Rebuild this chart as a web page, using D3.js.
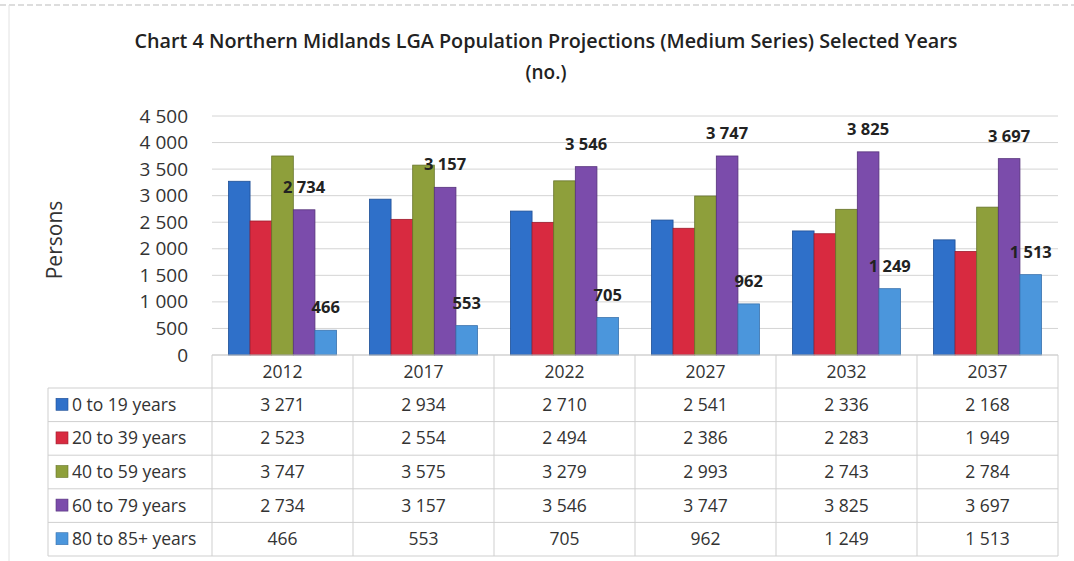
<!DOCTYPE html>
<html><head><meta charset="utf-8">
<script src="https://cdn.jsdelivr.net/npm/d3@7"></script>
<style>body{margin:0;background:#fff;} svg{display:block;}</style>
</head><body>
<svg id="c" width="1074" height="561"></svg>
<script>
const years = ["2012","2017","2022","2027","2032","2037"];
const seriesNames = ["0 to 19 years","20 to 39 years","40 to 59 years","60 to 79 years","80 to 85+ years"];
const s0to19 = [3271,2934,2710,2541,2336,2168];
const s20to39 = [2523,2554,2494,2386,2283,1949];
const s40to59 = [3747,3575,3279,2993,2743,2784];
const s60to79 = [2734,3157,3546,3747,3825,3697];
const s80plus = [466,553,705,962,1249,1513];
const yTicks = [0,500,1000,1500,2000,2500,3000,3500,4000,4500];
const labelledSeries = [3,4];

const values = [s0to19,s20to39,s40to59,s60to79,s80plus];
const colors = ["#2f70c9","#d82a40","#8e9f3b","#7b4cab","#4b96dc"];
const strokes = ["#1f4f95","#9e1b2c","#66732a","#55327a","#3a72ad"];
const fmt = v => { const s = String(v); return s.length>3 ? s.slice(0,s.length-3)+" "+s.slice(-3) : s; };

const svg = d3.select("#c");
const font = "'Open Sans', 'Noto Sans', sans-serif";
const L = 212, R = 1058, T = 116, B = 355;
const x = d3.scaleBand().domain(years).range([L,R]);
const inner = d3.scaleBand().domain(d3.range(5)).range([0,x.bandwidth()]).paddingOuter(0.76);
const y = d3.scaleLinear().domain([0,4500]).range([B,T]);

// faint frame
svg.append("line").attr("x1",0).attr("x2",1074).attr("y1",5).attr("y2",5).attr("stroke","#bbb").attr("stroke-dasharray","6,3");
svg.append("line").attr("x1",9).attr("x2",9).attr("y1",5).attr("y2",561).attr("stroke","#e2e2e2");

// title
svg.append("text").attr("x",546).attr("y",48).attr("text-anchor","middle")
  .attr("font-family",font).attr("font-weight","600").attr("font-size",19).attr("fill","#222")
  .attr("textLength",823).attr("lengthAdjust","spacingAndGlyphs")
  .text("Chart 4 Northern Midlands LGA Population Projections (Medium Series) Selected Years");
svg.append("text").attr("x",546).attr("y",79).attr("text-anchor","middle")
  .attr("font-family",font).attr("font-weight","600").attr("font-size",19).attr("fill","#222").text("(no.)");

// gridlines
svg.append("g").selectAll("line").data(yTicks.slice(1)).join("line")
  .attr("x1",L).attr("x2",R).attr("y1",d=>y(d)).attr("y2",d=>y(d))
  .attr("stroke","#d4d4d4").attr("stroke-width",1);

// y axis
const yAxis = svg.append("g").attr("transform",`translate(${L},0)`)
  .call(d3.axisLeft(y).tickValues(yTicks).tickFormat(fmt).tickSize(0).tickPadding(24));
yAxis.select(".domain").remove();
yAxis.selectAll("text").attr("font-family",font).attr("font-size",19).attr("fill","#333");

svg.append("text").attr("transform","translate(62,240) rotate(-90)").attr("text-anchor","middle")
  .attr("font-family",font).attr("font-size",21).attr("fill","#333").text("Persons");

// bars
const g = svg.append("g");
values.forEach((vals,si)=>{
  g.selectAll(null).data(vals).join("rect")
    .attr("x",(d,i)=>x(years[i])+inner(si))
    .attr("width",inner.bandwidth())
    .attr("y",d=>y(d)).attr("height",d=>B-y(d))
    .attr("fill",colors[si]).attr("stroke",strokes[si]).attr("stroke-width",0.8);
});
// data labels
labelledSeries.forEach(si=>{
  g.selectAll(null).data(values[si]).join("text")
    .attr("x",(d,i)=>x(years[i])+inner(si)+inner.bandwidth()/2)
    .attr("y",d=>y(d)-17).attr("text-anchor","middle")
    .attr("font-family",font).attr("font-weight","bold").attr("font-size",16.5).attr("fill","#222")
    .text(d=>fmt(d));
});

// baseline
svg.append("line").attr("x1",L).attr("x2",R).attr("y1",B).attr("y2",B).attr("stroke","#bbb");

// data table
const rowH = 33.6, headTop = B, headBot = 388;
const TL = 48;
const tg = svg.append("g");
const lineC = "#cfcfcf";
tg.selectAll(null).data(years.concat(["end"])).join("line")
  .attr("x1",(d,i)=>L + i*x.bandwidth()).attr("x2",(d,i)=>L + i*x.bandwidth())
  .attr("y1",headTop).attr("y2",headBot+5*rowH).attr("stroke",lineC);
tg.append("line").attr("x1",TL).attr("x2",TL).attr("y1",headBot).attr("y2",headBot+5*rowH).attr("stroke",lineC);
tg.selectAll(null).data(d3.range(6)).join("line")
  .attr("x1",TL).attr("x2",R)
  .attr("y1",d=>headBot+d*rowH).attr("y2",d=>headBot+d*rowH).attr("stroke",lineC);
tg.selectAll(null).data(years).join("text")
  .attr("x",d=>x(d)+x.bandwidth()/2).attr("y",(headTop+headBot)/2+6.5).attr("text-anchor","middle")
  .attr("font-family",font).attr("font-size",17.5).attr("fill","#333").text(d=>d);
seriesNames.forEach((name,si)=>{
  const cy = headBot + si*rowH + rowH/2;
  tg.append("rect").attr("x",TL+8).attr("y",cy-6.5).attr("width",12).attr("height",12)
    .attr("fill",colors[si]).attr("stroke",strokes[si]).attr("stroke-width",0.6);
  tg.append("text").attr("x",TL+24).attr("y",cy+6)
    .attr("font-family",font).attr("font-size",17.5).attr("fill","#333").text(name);
  tg.selectAll(null).data(values[si]).join("text")
    .attr("x",(d,i)=>x(years[i])+x.bandwidth()/2).attr("y",cy+6).attr("text-anchor","middle")
    .attr("font-family",font).attr("font-size",17.5).attr("fill","#333").text(d=>fmt(d));
});
</script>
</body></html>
